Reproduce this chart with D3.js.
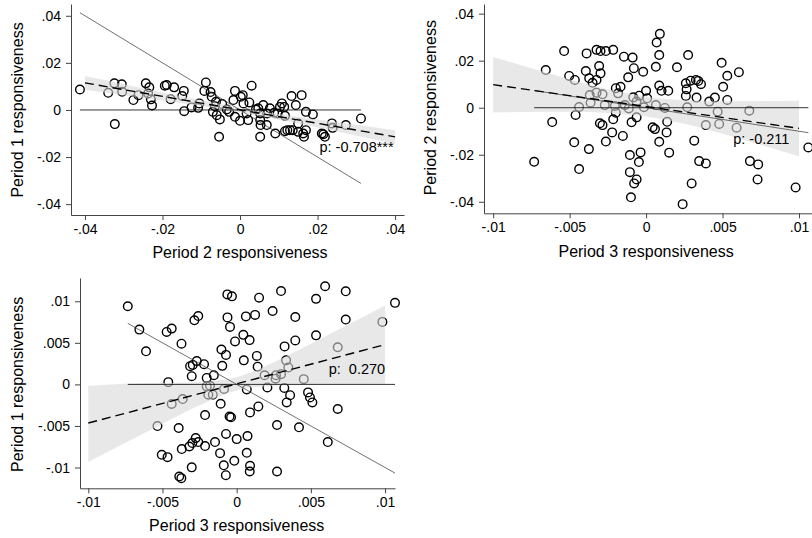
<!DOCTYPE html>
<html lang="en">
<head>
    <meta charset="UTF-8">
    <title>Responsiveness across periods</title>
    <script src="https://d3js.org/d3.v7.min.js"></script>
    <style>
        body { margin: 0; background: #fff; }
        svg { display: block; font-family: Arial, "Liberation Sans", sans-serif; }
        .axis path, .axis line { stroke: #444; stroke-width: 1; }
        .axis text { font-size: 14px; fill: #000; }
        .axis-label { font-size: 16px; fill: #000; }
        .dot { fill: none; stroke: #000; stroke-width: 1.4; }
        .band { fill: #d8d8d8; fill-opacity: 0.59; }
        .fit { fill: none; stroke: #000; stroke-width: 1.4; stroke-dasharray: 9,5; }
        .zero { fill: none; stroke: #000; stroke-width: 0.8; }
        .diag { fill: none; stroke: #333; stroke-width: 0.7; }
        .corr { font-size: 14.5px; white-space: pre; }
    </style>
</head>
<body>
<div id="chart"></div>
<script>
    // ---- panel 1: period 2 (x) vs period 1 (y)
    const p1Points = [
        [-0.0413, 0.0087], [-0.0340, 0.0073], [-0.0324, 0.0113], [-0.0305, 0.0109], [-0.0323, -0.0060],
        [-0.0304, 0.0077], [-0.0275, 0.0042], [-0.0262, 0.0063], [-0.0243, 0.0113], [-0.0234, 0.0096],
        [-0.0237, 0.0070], [-0.0230, 0.0045], [-0.0227, 0.0019], [-0.0194, 0.0103], [-0.0189, 0.0106],
        [-0.0170, 0.0096], [-0.0179, 0.0046], [-0.0145, 0.0081], [-0.0149, 0.0059], [-0.0144, -0.0005],
        [-0.0125, 0.0011], [-0.0108, 0.0009], [-0.0105, 0.0028], [-0.0088, 0.0117], [-0.0092, 0.0081],
        [-0.0076, 0.0076], [-0.0073, 0.0056], [-0.0062, 0.0035], [-0.0070, -0.0008], [-0.0060, -0.0022],
        [-0.0052, -0.0040], [-0.0054, -0.0114], [-0.0034, 0.0002], [-0.0028, -0.0008], [-0.0013, 0.0081],
        [-0.0017, 0.0042], [-0.0013, -0.0029], [0.0002, 0.0056], [0.0007, 0.0063], [0.0009, 0.0028],
        [0.0024, 0.0032], [0.0000, -0.0046], [0.0021, -0.0043], [0.0017, -0.0015], [0.0030, 0.0103],
        [0.0041, 0.0002], [0.0047, 0.0007], [0.0052, -0.0015], [0.0060, 0.0021], [0.0052, -0.0043],
        [0.0053, -0.0064], [0.0069, -0.0064], [0.0070, -0.0015], [0.0077, 0.0007], [0.0088, -0.0012],
        [0.0097, -0.0015], [0.0052, -0.0114], [0.0108, 0.0028], [0.0114, 0.0013], [0.0116, -0.0025],
        [0.0133, 0.0059], [0.0144, 0.0021], [0.0159, 0.0063], [0.0170, -0.0008], [0.0188, -0.0019],
        [0.0091, -0.0100], [0.0116, -0.0090], [0.0122, -0.0086], [0.0129, -0.0086], [0.0136, -0.0086],
        [0.0150, -0.0057], [0.0150, -0.0093], [0.0163, -0.0100], [0.0170, -0.0086], [0.0165, -0.0114],
        [0.0211, -0.0100], [0.0219, -0.0114], [0.0215, -0.0103], [0.0237, -0.0057], [0.0239, -0.0076],
        [0.0312, -0.0036], [0.0273, -0.0064], [-0.0065, 0.0016], [-0.0046, 0.0025], [0.0103, 0.0013]
    ];
    const p1FitX = [-0.04, 0.04];
    const p1FitY = [0.0115, -0.0114];
    const p1BandX = [-0.04, -0.03, -0.02, -0.01, 0, 0.01, 0.02, 0.03, 0.04];
    const p1BandHi = [0.0144, 0.0109, 0.0074, 0.0041, 0.0010, -0.0017, -0.0040, -0.0063, -0.0086];
    const p1BandLo = [0.0086, 0.0063, 0.0040, 0.0017, -0.0010, -0.0041, -0.0074, -0.0109, -0.0144];
    const p1XTicks = [-0.04, -0.02, 0, 0.02, 0.04];
    const p1YTicks = [-0.04, -0.02, 0, 0.02, 0.04];

    // ---- panel 2: period 3 (x) vs period 2 (y)
    const p2Points = [
        [-0.00732, -0.0230], [-0.00656, 0.0160], [-0.00614, -0.0061], [-0.00536, 0.0241], [-0.00503, 0.0135],
        [-0.00466, 0.0118], [-0.00461, -0.0031], [-0.00438, 0.0003], [-0.00470, -0.0147], [-0.00438, -0.0261],
        [-0.00389, 0.0231], [-0.00394, 0.0156], [-0.00372, 0.0125], [-0.00350, 0.0106], [-0.00324, 0.0118],
        [-0.00374, -0.0176], [-0.00324, 0.0246], [-0.00298, 0.0241], [-0.00263, 0.0241], [-0.00215, 0.0246],
        [-0.00307, 0.0177], [-0.00298, 0.0146], [-0.00368, 0.0054], [-0.00363, 0.0021], [-0.00324, 0.0064],
        [-0.00285, 0.0057], [-0.00270, 0.0011], [-0.00302, -0.0066], [-0.00285, -0.0074], [-0.00215, -0.0049],
        [-0.00222, -0.0105], [-0.00263, -0.0144], [-0.00198, -0.0021], [-0.00198, 0.0083], [-0.00167, 0.0089],
        [-0.00145, 0.0217], [-0.00088, 0.0213], [-0.00117, 0.0129], [-0.00080, 0.0168], [-0.00019, 0.0153],
        [-0.00183, 0.0061], [-0.00204, 0.0007], [-0.00139, 0.0011], [-0.00084, 0.0044], [-0.00045, 0.0051],
        [-0.00062, 0.0026], [-0.00113, -0.0003], [-0.00014, 0.0002], [-0.00152, -0.0120], [-0.00095, -0.0062],
        [-0.00062, -0.0041], [-0.00106, -0.0201], [-0.00036, -0.0190], [-0.00047, -0.0231], [-0.00106, -0.0274],
        [-0.00062, -0.0305], [-0.00078, -0.0322], [-0.00099, -0.0381], [0.00090, 0.0314], [0.00069, 0.0277],
        [0.00086, 0.0224], [0.00064, 0.0174], [0.00202, 0.0172], [0.00000, 0.0072], [0.00007, 0.0040],
        [0.00086, 0.0094], [0.00101, 0.0072], [0.00145, 0.0072], [0.00064, 0.0011], [0.00123, -0.0001],
        [0.00043, -0.0083], [0.00058, -0.0091], [0.00138, -0.0060], [0.00134, -0.0105], [0.00086, -0.0145],
        [0.00151, -0.0191], [0.00275, 0.0224], [0.00494, 0.0191], [0.00607, 0.0151], [0.00531, 0.0136],
        [0.00504, 0.0089], [0.00531, 0.0033], [0.00450, 0.0043], [0.00413, 0.0026], [0.00330, 0.0043],
        [0.00260, 0.0104], [0.00265, 0.0078], [0.00260, 0.0050], [0.00291, 0.0115], [0.00326, 0.0118],
        [0.00341, 0.0114], [0.00359, 0.0100], [0.00269, 0.0002], [0.00468, -0.0017], [0.00675, -0.0013],
        [0.00391, -0.0074], [0.00478, -0.0069], [0.00592, -0.0085], [0.00315, -0.0140], [0.00347, -0.0227],
        [0.00391, -0.0237], [0.00679, -0.0227], [0.00733, -0.0241], [0.00729, -0.0305], [0.00298, -0.0322],
        [0.00239, -0.0410], [0.00978, -0.0339], [0.01061, -0.0169]
    ];
    const p2FitX = [-0.01, 0.01];
    const p2FitY = [0.0098, -0.0088];
    const p2BandX = [-0.01, -0.0075, -0.005, -0.0025, 0, 0.0025, 0.005, 0.0075, 0.01];
    const p2BandHi = [0.0216, 0.0168, 0.0121, 0.0078, 0.0047, 0.0032, 0.0027, 0.0028, 0.0030];
    const p2BandLo = [-0.0020, -0.0018, -0.0017, -0.0022, -0.0037, -0.0068, -0.0111, -0.0158, -0.0206];
    const p2XTicks = [-0.01, -0.005, 0, 0.005, 0.01];
    const p2YTicks = [-0.04, -0.02, 0, 0.02, 0.04];

    // ---- panel 3: period 3 (x) vs period 1 (y)
    const p3Points = [
        [-0.00734, 0.00940], [-0.00656, 0.00659], [-0.00611, 0.00398], [-0.00472, 0.00631], [-0.00438, 0.00671],
        [-0.00372, 0.00490], [-0.00285, 0.00771], [-0.00259, 0.00822], [-0.00314, 0.00219], [-0.00296, 0.00234],
        [-0.00269, 0.00280], [-0.00220, 0.00243], [-0.00303, 0.00099], [-0.00461, 0.00027], [-0.00438, -0.00235],
        [-0.00364, -0.00176], [-0.00534, -0.00501], [-0.00391, -0.00525], [-0.00213, -0.00369], [-0.00505, -0.00847],
        [-0.00466, -0.00875], [-0.00370, -0.00778], [-0.00319, -0.00747], [-0.00299, -0.00706], [-0.00276, -0.00646],
        [-0.00259, -0.00694], [-0.00213, -0.00742], [-0.00303, -0.00998], [-0.00387, -0.01108], [-0.00373, -0.01128],
        [-0.00202, 0.00078], [-0.00202, -0.00024], [-0.00180, -0.00016], [-0.00191, -0.00124], [-0.00161, -0.00124],
        [-0.00154, 0.00111], [-0.00085, -0.00055], [-0.00108, -0.00233], [-0.00063, 0.01083], [-0.00032, 0.01059],
        [0.00151, 0.01043], [0.00299, 0.01123], [0.00242, 0.00882], [0.00395, 0.00810], [0.00124, 0.00836],
        [0.00062, 0.00818], [-0.00062, 0.00806], [-0.00045, 0.00692], [-0.00011, 0.00517], [0.00045, 0.00596],
        [0.00087, 0.00533], [-0.00103, 0.00420], [-0.00072, 0.00355], [-0.00097, 0.00223], [0.00048, 0.00289],
        [0.00136, 0.00343], [0.00323, 0.00457], [0.00395, 0.00529], [0.00141, 0.00213], [0.00333, 0.00289],
        [0.00348, 0.00204], [0.00188, 0.00110], [0.00265, 0.00111], [0.00299, 0.00123], [0.00262, 0.00069],
        [0.00452, 0.00063], [0.00068, -0.00060], [0.00207, -0.00037], [0.00321, -0.00043], [0.00360, -0.00130],
        [0.00337, -0.00217], [0.00481, -0.00096], [0.00494, -0.00157], [0.00510, -0.00217], [0.00681, -0.00296],
        [0.00146, -0.00265], [0.00090, -0.00337], [-0.00048, -0.00386], [-0.00038, -0.00395], [0.00272, -0.00489],
        [0.00420, -0.00516], [0.00614, -0.00694], [-0.00072, -0.00596], [0.00000, -0.00658], [0.00073, -0.00622],
        [-0.00146, -0.00694], [-0.00112, -0.00827], [0.00068, -0.00823], [-0.00016, -0.00919], [-0.00087, -0.00973],
        [0.00090, -0.00980], [0.00088, -0.01048], [0.00272, -0.01048], [-0.00073, -0.01092], [0.00596, 0.01181],
        [0.00535, 0.01029], [0.00735, 0.01120], [0.01067, 0.00981], [0.00735, 0.00780], [0.00982, 0.00752],
        [0.00535, 0.00590], [0.00681, 0.00446]
    ];
    const p3FitX = [-0.01, 0.01];
    const p3FitY = [-0.00465, 0.00479];
    const p3BandX = [-0.01, -0.0075, -0.005, -0.0025, 0, 0.0025, 0.005, 0.0075, 0.01];
    const p3BandHi = [-0.00018, 0.00009, 0.00016, 0.00030, 0.00087, 0.00266, 0.00488, 0.00717, 0.00949];
    const p3BandLo = [-0.00935, -0.00703, -0.00474, -0.00252, -0.00073, -0.00016, -0.00002, 0.00005, 0.00009];
    const p3XTicks = [-0.01, -0.005, 0, 0.005, 0.01];
    const p3YTicks = [-0.01, -0.005, 0, 0.005, 0.01];

    // layout of the three plot regions (pixels) and the value span each axis covers
    const panels = [
        {
            points: p1Points, fitX: p1FitX, fitY: p1FitY,
            bandX: p1BandX, bandHi: p1BandHi, bandLo: p1BandLo,
            xTicks: p1XTicks, yTicks: p1YTicks,
            xDomain: [-0.0436, 0.0423], yDomain: [-0.0446, 0.045],
            left: 71, right: 404, top: 4, bottom: 215,
            xTitle: "Period 2 responsiveness", yTitle: "Period 1 responsiveness",
            titleX: 17, titleY: 252,
            corr: "p: -0.708***", corrAt: [0.0205, -0.0178]
        },
        {
            points: p2Points, fitX: p2FitX, fitY: p2FitY,
            bandX: p2BandX, bandHi: p2BandHi, bandLo: p2BandLo,
            xTicks: p2XTicks, yTicks: p2YTicks,
            xDomain: [-0.0106, 0.01085], yDomain: [-0.0449, 0.0441],
            left: 484, right: 812, top: 4, bottom: 213.3,
            xTitle: "Period 3 responsiveness", yTitle: "Period 2 responsiveness",
            titleX: 430, titleY: 251,
            corr: "p: -0.211", corrAt: [0.0057, -0.0154]
        },
        {
            points: p3Points, fitX: p3FitX, fitY: p3FitY,
            bandX: p3BandX, bandHi: p3BandHi, bandLo: p3BandLo,
            xTicks: p3XTicks, yTicks: p3YTicks,
            xDomain: [-0.01056, 0.01067], yDomain: [-0.0125, 0.0128],
            left: 80, right: 395, top: 278, bottom: 488.3,
            xTitle: "Period 3 responsiveness", yTitle: "Period 1 responsiveness",
            titleX: 17, titleY: 525,
            corr: "p:  0.270", corrAt: [0.0062, 0.0012]
        }
    ];

    const svg = d3.select("#chart")
        .append("svg")
        .attr("width", 812)
        .attr("height", 538);

    // ".04" style labels, as Stata prints them
    const tickFmt = d => d === 0 ? "0" : String(d).replace("0.", ".");

    panels.forEach(p => {
        const x = d3.scaleLinear().domain(p.xDomain).range([p.left, p.right]);
        const y = d3.scaleLinear().domain(p.yDomain).range([p.bottom, p.top]);
        const g = svg.append("g");

        // scatter points (drawn first so the band greys those underneath)
        g.selectAll("circle")
            .data(p.points)
            .enter()
            .append("circle")
            .attr("class", "dot")
            .attr("cx", d => x(d[0]))
            .attr("cy", d => y(d[1]))
            .attr("r", 4.3);

        // confidence band
        const band = p.bandX.map((v, i) => ({ x: v, lo: p.bandLo[i], hi: p.bandHi[i] }));
        g.append("path")
            .datum(band)
            .attr("class", "band")
            .attr("d", d3.area()
                .x(d => x(d.x))
                .y0(d => y(d.lo))
                .y1(d => y(d.hi))
                .curve(d3.curveMonotoneX));

        // zero line and 45 degree line over the range of the data
        const [xMin, xMax] = d3.extent(p.points, d => d[0]);
        const line = d3.line().x(d => x(d[0])).y(d => y(d[1]));
        g.append("path")
            .attr("class", "zero")
            .attr("d", line([[xMin, 0], [xMax, 0]]));
        g.append("path")
            .attr("class", "diag")
            .attr("d", line([[xMin, -xMin], [xMax, -xMax]]));

        // fitted line
        g.append("path")
            .attr("class", "fit")
            .attr("d", line(p.fitX.map((v, i) => [v, p.fitY[i]])));

        // axes
        g.append("g")
            .attr("class", "axis")
            .attr("transform", `translate(0, ${p.bottom})`)
            .call(d3.axisBottom(x).tickValues(p.xTicks).tickFormat(tickFmt)
                .tickSize(5).tickSizeOuter(0).tickPadding(4));
        g.append("g")
            .attr("class", "axis")
            .attr("transform", `translate(${p.left}, 0)`)
            .call(d3.axisLeft(y).tickValues(p.yTicks).tickFormat(tickFmt)
                .tickSize(5).tickSizeOuter(0).tickPadding(5));

        // axis titles
        g.append("text")
            .attr("class", "axis-label")
            .attr("x", (x(p.xTicks[0]) + x(p.xTicks[p.xTicks.length - 1])) / 2)
            .attr("y", p.titleY)
            .attr("dy", "0.35em")
            .style("text-anchor", "middle")
            .text(p.xTitle);
        g.append("text")
            .attr("class", "axis-label")
            .attr("transform", `translate(${p.titleX}, ${y(0)}) rotate(-90)`)
            .attr("dy", "0.35em")
            .style("text-anchor", "middle")
            .text(p.yTitle);

        // correlation label
        g.append("text")
            .attr("class", "corr")
            .attr("x", x(p.corrAt[0]))
            .attr("y", y(p.corrAt[1]))
            .text(p.corr);
    });
</script>
</body>
</html>
